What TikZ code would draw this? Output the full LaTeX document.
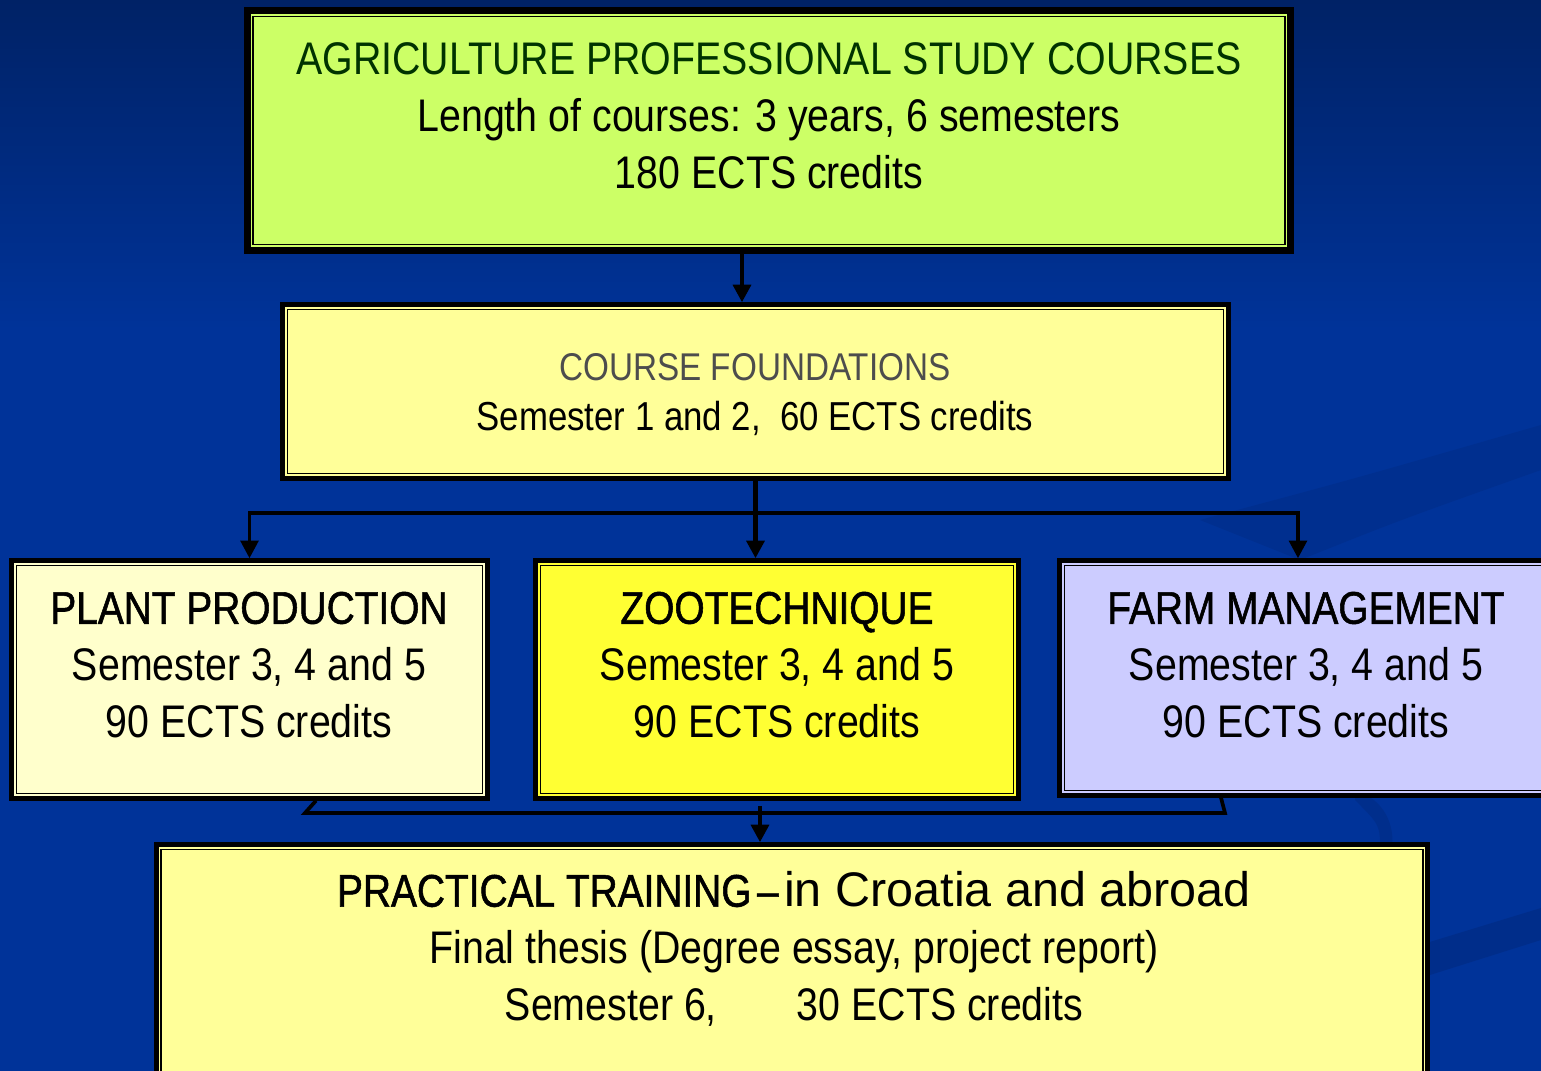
\documentclass[tikz,border=0pt]{standalone}
\usepackage{fontspec}
\setmainfont{Liberation Sans}
\newfontfamily\narrowfont{Liberation Sans}[FakeStretch=0.86]
\newfontfamily\narrowheadfont{Liberation Sans}[FakeStretch=0.85,FakeBold=1.2]
\usetikzlibrary{arrows.meta,positioning}

\definecolor{bgblue}{HTML}{003399}
\definecolor{bgtop}{HTML}{002266}
\definecolor{swoosh}{HTML}{002A80}
\definecolor{limefill}{HTML}{CCFF66}
\definecolor{paleyellow}{HTML}{FFFF99}
\definecolor{creamfill}{HTML}{FFFFCC}
\definecolor{brightyellow}{HTML}{FFFF33}
\definecolor{lavender}{HTML}{CCCCFF}
\definecolor{darkgreen}{HTML}{003300}
\definecolor{foundgray}{HTML}{4D4D4D}

\begin{document}
\begin{tikzpicture}[x=0.01cm,y=-0.01cm,>={Triangle[length=5pt,width=5pt]},line width=1.05pt,
    box/.style={rectangle,draw=black,line width=0.45pt,double=#1,double distance=0.45pt,fill=#1,
        preaction={draw=black,line width=3.2pt},inner sep=0pt,outer sep=1.6pt},
    bigbox/.style={box=#1,preaction={draw=black,line width=4.4pt},outer sep=2.2pt},
    boxtext/.style={align=center,inner sep=0pt,font=\narrowfont\fontsize{13}{16.2}\selectfont}]
    \useasboundingbox (0,0) rectangle (1541,1071);
    \clip (0,0) rectangle (1541,1071);
    % background
    \shade[top color=bgtop,bottom color=bgblue] (0,0) rectangle (1541,330);
    \fill[bgblue] (0,330) rectangle (1541,1071);
    \fill[swoosh,opacity=0.4] (1200,520) .. controls (1350,480) .. (1541,425) -- (1541,470) .. controls (1400,520) .. (1300,560) -- cycle;
    \fill[swoosh,opacity=0.6] (1420,945) -- (1541,908) -- (1541,940) -- (1430,975) -- cycle;
    \fill[swoosh,opacity=0.5] (1355,790) .. controls (1385,800) and (1395,825) .. (1392,850) -- (1380,850) .. controls (1380,825) .. (1355,800) -- cycle;
    % boxes
    \node[bigbox=limefill,minimum width=10.34cm,minimum height=2.31cm](top)at(769, 130.5){};
    \node[box=paleyellow,minimum width=9.39cm,minimum height=1.67cm](found)at(755.5, 391.5){};
    \node[box=creamfill,minimum width=4.69cm,minimum height=2.31cm](plant)at(249.5, 679.5){};
    \node[box=brightyellow,minimum width=4.76cm,minimum height=2.31cm](zoo)at(777, 679.5){};
    \node[box=lavender,minimum width=4.89cm,minimum height=2.28cm](farm)at(1307.5, 678){};
    \node[box=paleyellow,minimum width=12.64cm,minimum height=2.6cm](practical)at(792, 978){};
    % texts
    \node[boxtext](toptext)at(769, 116){{\color{darkgreen}AGRICULTURE PROFESSIONAL STUDY COURSES}\\
        Length of courses: 3 years, 6 semesters\\180 ECTS credits};
    \node[boxtext,font=\narrowfont\fontsize{11.5}{14.2}\selectfont](foundtext)at(755, 395){{\color{foundgray}\fontsize{11}{14.2}\selectfont COURSE FOUNDATIONS}\\
        Semester 1 and 2,\ \ 60 ECTS credits};
    \node[boxtext](planttext)at(249, 665){{\narrowheadfont PLANT PRODUCTION}\\Semester 3, 4 and 5\\90 ECTS credits};
    \node[boxtext](zootext)at(777, 665){{\narrowheadfont ZOOTECHNIQUE}\\Semester 3, 4 and 5\\90 ECTS credits};
    \node[boxtext](farmtext)at(1306, 665){{\narrowheadfont FARM MANAGEMENT}\\Semester 3, 4 and 5\\90 ECTS credits};
    \node[boxtext](practicaltext)at(794, 949){{\narrowheadfont PRACTICAL TRAINING\hspace{0.12em}–\hspace{0.12em}}{\normalfont\fontsize{13.8}{16.2}\selectfont in Croatia and abroad}\\
        Final thesis (Degree essay, project report)\\Semester 6,\hspace{0.8cm}30 ECTS credits};
    % connectors
    \coordinate (splitx) at (742,0);
    \coordinate (branchy) at (0,513);
    \coordinate (farmdrop) at (1298,0);
    \coordinate (plantjoin) at (316,0);
    \coordinate (lbend) at (305,813);
    \coordinate (rbend) at (1225,813);
    \coordinate (farmjoin) at (1221,0);
    \coordinate (mergedrop) at (760,806);
    \draw[->,line width=1.3pt] (top.south -| splitx) -- (found.north -| splitx);
    \draw[->,line width=1.5pt] (found.south) -- (zoo.north -| found.south);
    \draw[->] (found.south |- branchy) -| (plant.north);
    \draw[->] (found.south |- branchy) -| (farm.north -| farmdrop);
    \draw (plant.south -| plantjoin) -- (lbend) -- (rbend) -- (farm.south -| farmjoin);
    \draw[->,line width=1.3pt] (mergedrop) -- (practical.north -| mergedrop);
\end{tikzpicture}
\end{document}
